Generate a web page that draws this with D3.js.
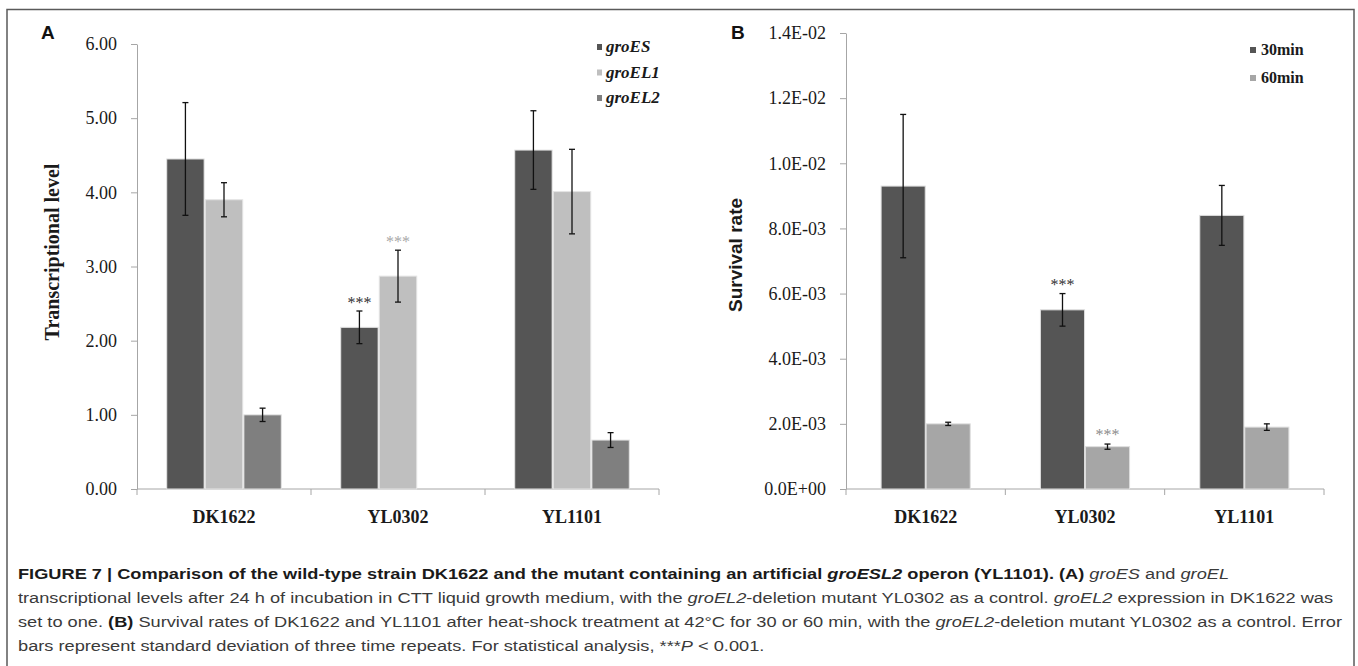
<!DOCTYPE html>
<html>
<head>
<meta charset="utf-8">
<script src="https://cdn.jsdelivr.net/npm/d3@7"></script>
<style>
  body { margin: 0; background: #fff; }
  svg { display: block; }
</style>
</head>
<body>
<script>
// ---- data ----
const strains = ['DK1622', 'YL0302', 'YL1101'];

// panel A: transcriptional level
const genes = ['groES', 'groEL1', 'groEL2'];
const groES = [4.45, 2.18, 4.57];
const groESErr = [0.76, 0.22, 0.53];
const groEL1 = [3.90, 2.87, 4.01];
const groEL1Err = [0.23, 0.35, 0.57];
const groEL2 = [1.00, null, 0.66];
const groEL2Err = [0.09, null, 0.10];
const ticksA = [0, 1, 2, 3, 4, 5, 6];
const starsA = [['YL0302', 'groES'], ['YL0302', 'groEL1']];

// panel B: survival rate
const times = ['30min', '60min'];
const min30 = [9.3e-3, 5.5e-3, 8.4e-3];
const min30Err = [2.2e-3, 0.5e-3, 0.92e-3];
const min60 = [2.0e-3, 1.3e-3, 1.9e-3];
const min60Err = [0.05e-3, 0.08e-3, 0.1e-3];
const ticksB = [0, 0.002, 0.004, 0.006, 0.008, 0.010, 0.012, 0.014];
const tickLabelsB = ['0.0E+00', '2.0E-03', '4.0E-03', '6.0E-03', '8.0E-03', '1.0E-02', '1.2E-02', '1.4E-02'];
const starsB = [['YL0302', '30min'], ['YL0302', '60min']];

const colorsA = {groES: '#555555', groEL1: '#bfbfbf', groEL2: '#7f7f7f'};
const starColA = {groES: '#333333', groEL1: '#a8a8a8'};
const colorsB = {'30min': '#555555', '60min': '#a6a6a6'};
const starColB = {'30min': '#333333', '60min': '#8c8c8c'};

const serif = '"Liberation Serif", "Times New Roman", serif';
const sans = '"Liberation Sans", Arial, sans-serif';

const svg = d3.select('body').append('svg')
  .attr('width', 1358)
  .attr('height', 666);

svg.append('rect')
  .attr('x', 7).attr('y', 9.5)
  .attr('width', 1347).attr('height', 680)
  .attr('fill', 'none')
  .attr('stroke', '#5a5a5a')
  .attr('stroke-width', 1.5);

// shared helpers
function drawAxes(g, x, y, tickVals, tickFmt) {
  const x0 = x.range()[0], x1 = x.range()[1];
  const yAxis = g.append('g')
    .attr('transform', `translate(${x0},0)`)
    .call(d3.axisLeft(y).tickValues(tickVals).tickFormat(tickFmt)
      .tickSize(6).tickSizeOuter(0).tickPadding(14));
  yAxis.attr('font-family', serif);
  yAxis.selectAll('path, line').attr('stroke', '#a6a6a6');
  yAxis.selectAll('text')
    .attr('font-family', serif)
    .attr('font-size', 18)
    .attr('fill', '#1a1a1a');

  const base = y(0);
  g.append('line')
    .attr('x1', x0).attr('x2', x1)
    .attr('y1', base).attr('y2', base)
    .attr('stroke', '#a6a6a6');
  const bounds = x.domain().map(d => x(d)).concat([x1]);
  g.selectAll('.xtick').data(bounds).enter().append('line')
    .attr('x1', d => d).attr('x2', d => d)
    .attr('y1', base).attr('y2', base + 6)
    .attr('stroke', '#a6a6a6');
  g.selectAll('.xlab').data(x.domain()).enter().append('text')
    .attr('x', d => x(d) + x.bandwidth() / 2)
    .attr('y', base + 34)
    .attr('text-anchor', 'middle')
    .attr('font-family', serif)
    .attr('font-weight', 'bold')
    .attr('font-size', 18)
    .attr('fill', '#1a1a1a')
    .text(d => d);
}

function drawErr(g, rows, y) {
  const e = g.selectAll(null).data(rows).enter().append('g');
  e.append('line')
    .attr('x1', d => d.cx).attr('x2', d => d.cx)
    .attr('y1', d => y(d.v - d.e)).attr('y2', d => y(d.v + d.e))
    .attr('stroke', '#111').attr('stroke-width', 1.3);
  [1, -1].forEach(s => {
    e.append('line')
      .attr('x1', d => d.cx - 3).attr('x2', d => d.cx + 3)
      .attr('y1', d => y(d.v + s * d.e)).attr('y2', d => y(d.v + s * d.e))
      .attr('stroke', '#111').attr('stroke-width', 1.3);
  });
}

// ---- panel A ----
const gA = svg.append('g');
const xA = d3.scaleBand().domain(strains).range([137, 659]);
const xA1 = d3.scaleBand().domain(genes).range([0, xA.bandwidth()]).paddingOuter(0.77).paddingInner(0.03);
const yA = d3.scaleLinear().domain([0, 6]).range([489, 44]);

const valsA = {groES: groES, groEL1: groEL1, groEL2: groEL2};
const errsA = {groES: groESErr, groEL1: groEL1Err, groEL2: groEL2Err};
const rowsA = [];
strains.forEach((s, i) => genes.forEach(gn => {
  if (valsA[gn][i] == null) return;
  rowsA.push({s: s, g: gn, v: valsA[gn][i], e: errsA[gn][i],
    x: xA(s) + xA1(gn), cx: xA(s) + xA1(gn) + xA1.bandwidth() / 2});
}));

drawAxes(gA, xA, yA, ticksA, d3.format('.2f'));

gA.selectAll('.bar').data(rowsA).enter().append('rect')
  .attr('x', d => d.x)
  .attr('y', d => yA(d.v))
  .attr('width', xA1.bandwidth())
  .attr('height', d => yA(0) - yA(d.v))
  .attr('fill', d => colorsA[d.g])
  .attr('stroke', '#e4e4e4')
  .attr('stroke-width', 1);
drawErr(gA, rowsA, yA);

gA.selectAll('.star').data(starsA).enter().append('text')
  .attr('x', d => xA(d[0]) + xA1(d[1]) + xA1.bandwidth() / 2)
  .attr('y', d => {
    const r = rowsA.find(r => r.s === d[0] && r.g === d[1]);
    return yA(r.v + r.e) - 3;
  })
  .attr('text-anchor', 'middle')
  .attr('font-family', serif)
  .attr('font-size', 16)
  .attr('fill', d => starColA[d[1]])
  .text('***');

const legA = gA.selectAll('.leg').data(genes).enter().append('g')
  .attr('transform', (d, i) => `translate(597,${52 + i * 25.5})`);
legA.append('rect')
  .attr('x', 0).attr('y', -8).attr('width', 5).attr('height', 6)
  .attr('fill', d => colorsA[d]);
legA.append('text')
  .attr('x', 9).attr('y', 0)
  .attr('font-family', serif)
  .attr('font-weight', 'bold')
  .attr('font-style', 'italic')
  .attr('font-size', 17)
  .attr('fill', '#1a1a1a')
  .text(d => d);

gA.append('text')
  .attr('transform', 'translate(59,252) rotate(-90)')
  .attr('text-anchor', 'middle')
  .attr('font-family', serif)
  .attr('font-weight', 'bold')
  .attr('font-size', 20)
  .attr('fill', '#1a1a1a')
  .text('Transcriptional level');

gA.append('text')
  .attr('x', 41).attr('y', 39)
  .attr('font-family', sans)
  .attr('font-weight', 'bold')
  .attr('font-size', 19)
  .attr('fill', '#111')
  .text('A');

// ---- panel B ----
const gB = svg.append('g');
const xB = d3.scaleBand().domain(strains).range([846, 1324]);
const xB1 = d3.scaleBand().domain(times).range([0, xB.bandwidth()]).paddingOuter(0.78).paddingInner(0.02);
const yB = d3.scaleLinear().domain([0, 0.014]).range([489, 33]);

const valsB = {'30min': min30, '60min': min60};
const errsB = {'30min': min30Err, '60min': min60Err};
const rowsB = [];
strains.forEach((s, i) => times.forEach(t => {
  rowsB.push({s: s, g: t, v: valsB[t][i], e: errsB[t][i],
    x: xB(s) + xB1(t), cx: xB(s) + xB1(t) + xB1.bandwidth() / 2});
}));

drawAxes(gB, xB, yB, ticksB, (d, i) => tickLabelsB[i]);

gB.selectAll('.bar').data(rowsB).enter().append('rect')
  .attr('x', d => d.x)
  .attr('y', d => yB(d.v))
  .attr('width', xB1.bandwidth())
  .attr('height', d => yB(0) - yB(d.v))
  .attr('fill', d => colorsB[d.g])
  .attr('stroke', '#dedede')
  .attr('stroke-width', 1);
drawErr(gB, rowsB, yB);

gB.selectAll('.star').data(starsB).enter().append('text')
  .attr('x', d => xB(d[0]) + xB1(d[1]) + xB1.bandwidth() / 2)
  .attr('y', d => {
    const r = rowsB.find(r => r.s === d[0] && r.g === d[1]);
    return yB(r.v + r.e) - 4;
  })
  .attr('text-anchor', 'middle')
  .attr('font-family', serif)
  .attr('font-size', 16)
  .attr('fill', d => starColB[d[1]])
  .text('***');

const legB = gB.selectAll('.leg').data(times).enter().append('g')
  .attr('transform', (d, i) => `translate(1250,${55 + i * 28})`);
legB.append('rect')
  .attr('x', 0).attr('y', -8).attr('width', 6).attr('height', 6)
  .attr('fill', d => colorsB[d]);
legB.append('text')
  .attr('x', 11).attr('y', 0)
  .attr('font-family', serif)
  .attr('font-weight', 'bold')
  .attr('font-size', 16)
  .attr('fill', '#1a1a1a')
  .text(d => d);

gB.append('text')
  .attr('transform', 'translate(742,255) rotate(-90)')
  .attr('text-anchor', 'middle')
  .attr('font-family', sans)
  .attr('font-weight', 'bold')
  .attr('font-size', 19)
  .attr('fill', '#1a1a1a')
  .text('Survival rate');

gB.append('text')
  .attr('x', 731).attr('y', 39)
  .attr('font-family', sans)
  .attr('font-weight', 'bold')
  .attr('font-size', 19)
  .attr('fill', '#111')
  .text('B');

// ---- caption ----
// each line: list of [text, bold, italic]
const caption = [
  [['FIGURE 7 | Comparison of the wild-type strain DK1622 and the mutant containing an artificial ', 1, 0],
   ['groESL2', 1, 1], [' operon (YL1101). (A) ', 1, 0], ['groES', 0, 1], [' and ', 0, 0], ['groEL', 0, 1]],
  [['transcriptional levels after 24 h of incubation in CTT liquid growth medium, with the ', 0, 0],
   ['groEL2', 0, 1], ['-deletion mutant YL0302 as a control. ', 0, 0], ['groEL2', 0, 1],
   [' expression in DK1622 was', 0, 0]],
  [['set to one. ', 0, 0], ['(B)', 1, 0],
   [' Survival rates of DK1622 and YL1101 after heat-shock treatment at 42\u00B0C for 30 or 60 min, with the ', 0, 0],
   ['groEL2', 0, 1], ['-deletion mutant YL0302 as a control. Error', 0, 0]],
  [['bars represent standard deviation of three time repeats. For statistical analysis, ***', 0, 0],
   ['P', 0, 1], [' < 0.001.', 0, 0]]
];

const capLines = svg.selectAll('.cap').data(caption).enter().append('text')
  .attr('x', 18)
  .attr('y', (d, i) => 579 + i * 24)
  .attr('font-family', sans)
  .attr('font-size', 15.5)
  .attr('fill', '#3a3a3a');
capLines.selectAll('tspan').data(d => d).enter().append('tspan')
  .attr('font-weight', d => d[1] ? 'bold' : 'normal')
  .attr('font-style', d => d[2] ? 'italic' : 'normal')
  .attr('fill', d => d[1] ? '#1a1a1a' : '#3a3a3a')
  .text(d => d[0]);

// the original face is narrower; fit line 3 to its measured width and scale the rest alike
const lens = capLines.nodes().map(n => n.getComputedTextLength());
const k = (1342 - 18) / lens[2];
capLines
  .attr('textLength', (d, i) => lens[i] * k)
  .attr('lengthAdjust', 'spacingAndGlyphs');
</script>
</body>
</html>
